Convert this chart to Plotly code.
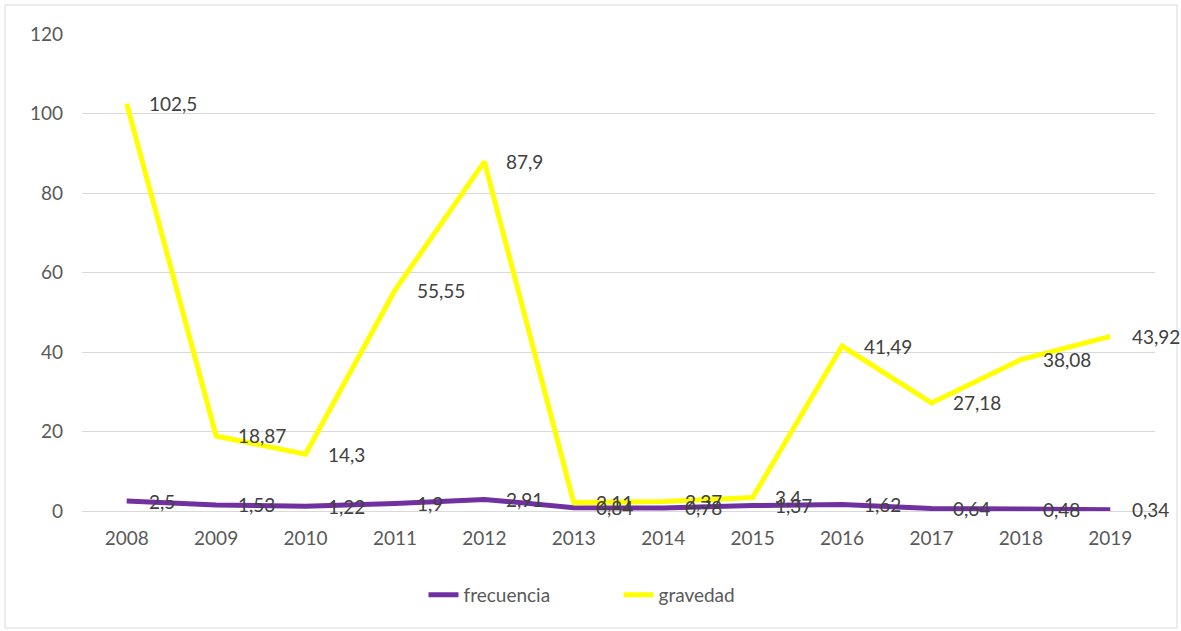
import plotly.graph_objects as go

years = [2008, 2009, 2010, 2011, 2012, 2013, 2014, 2015, 2016, 2017, 2018, 2019]
frecuencia = [2.5, 1.53, 1.22, 1.9, 2.91, 0.84, 0.78, 1.37, 1.62, 0.64, 0.48, 0.34]
gravedad = [102.5, 18.87, 14.3, 55.55, 87.9, 2.11, 2.37, 3.4, 41.49, 27.18, 38.08, 43.92]
y_ticks = [0, 20, 40, 60, 80, 100, 120]

def fmt(v):
    s = ("%.2f" % v).rstrip("0").rstrip(".")
    return s.replace(".", ",")

FONT = "Lato, Open Sans, sans-serif"
PURPLE = "#7030A0"
YELLOW = "#FFFF00"

fig = go.Figure()
fig.add_trace(go.Scatter(x=years, y=frecuencia, name="frecuencia", mode="lines",
                         line=dict(color=PURPLE, width=5), hoverinfo="skip"))
fig.add_trace(go.Scatter(x=years, y=gravedad, name="gravedad", mode="lines",
                         line=dict(color=YELLOW, width=5), hoverinfo="skip"))

annotations = []
for series in (frecuencia, gravedad):
    for x, v in zip(years, series):
        annotations.append(dict(x=x, y=v, xref="x", yref="y", text=fmt(v),
                                showarrow=False, xanchor="left", yanchor="middle",
                                xshift=20, font=dict(family=FONT, size=19, color="#404040")))

fig.update_layout(
    width=1181, height=631,
    margin=dict(l=82, r=26, t=34, b=120),
    paper_bgcolor="white", plot_bgcolor="white",
    font=dict(family=FONT, size=18, color="#595959"),
    annotations=annotations,
    showlegend=True,
    legend=dict(orientation="h", x=0.5, xanchor="center", y=-0.176, yanchor="middle",
                font=dict(family=FONT, size=19, color="#595959"),
                traceorder="normal", entrywidth=150),
    xaxis=dict(range=[2007.5, 2019.5], tickvals=years, showgrid=False, showline=False,
               zeroline=False, ticks="", ticklabelstandoff=14,
               tickfont=dict(size=19, color="#595959")),
    yaxis=dict(range=[0, 120], tickvals=y_ticks, showgrid=True, gridcolor="#D9D9D9",
               gridwidth=1, zeroline=True, zerolinecolor="#D9D9D9", zerolinewidth=1,
               showline=False, ticks="", ticklabelstandoff=18,
               tickfont=dict(size=19, color="#595959")),
    shapes=[dict(type="rect", xref="paper", yref="paper",
                 x0=(5 - 82) / 1073, x1=(1177 - 82) / 1073,
                 y0=(511 - 628) / 477, y1=(511 - 5) / 477,
                 line=dict(color="#D9D9D9", width=1), fillcolor="rgba(0,0,0,0)", layer="below")],
)

fig.write_html("out.html", config={"displayModeBar": False},
               post_script="document.body.style.margin='0';")
